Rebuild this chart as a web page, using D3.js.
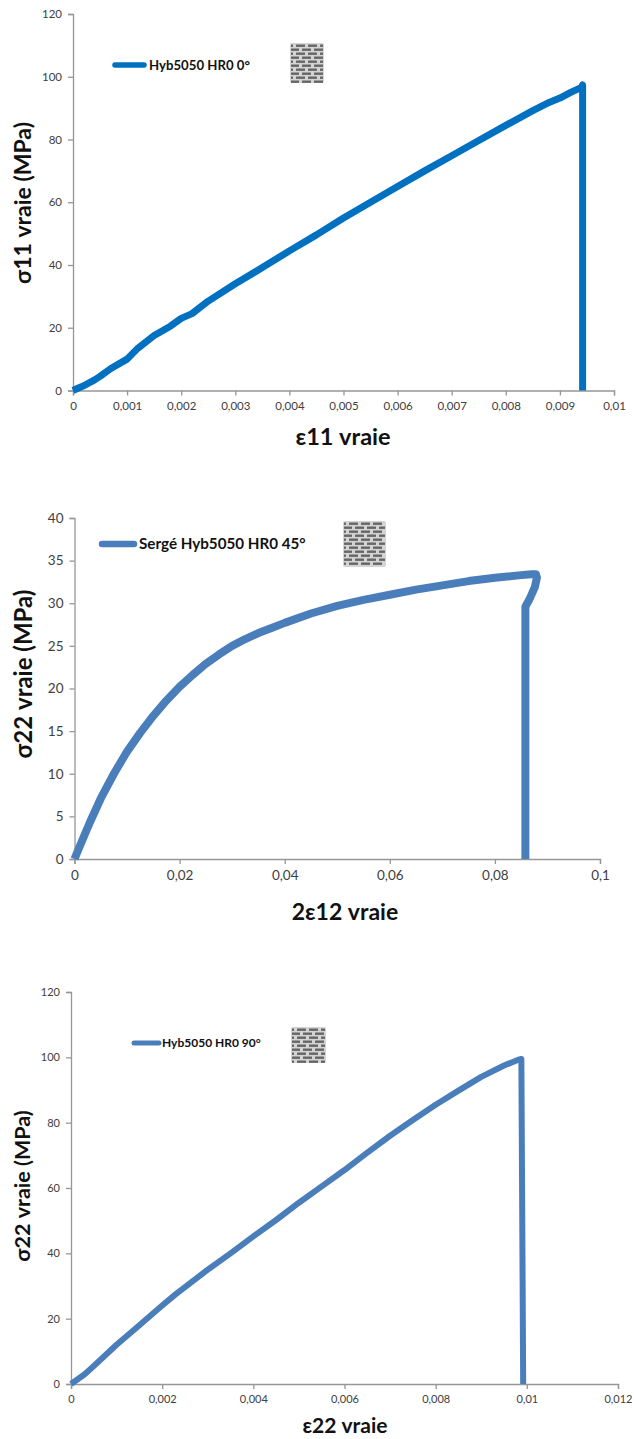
<!DOCTYPE html>
<html><head><meta charset="utf-8">
<script src="https://cdn.jsdelivr.net/npm/d3@7/dist/d3.min.js"></script>
<style>html,body{margin:0;padding:0;background:#fff}svg{display:block}text{font-family:Lato,"Open Sans",sans-serif}</style>
</head><body>
<script>
const strain0 = [0,.0001,.0002,.0004,.0005,.0007,.001,.0012,.0015,.0018,.002,.0022,.0025,.003,.0035,.004,.0045,.005,.0055,.006,.0065,.007,.0075,.008,.0085,.0088,.009,.0092,.0094,.00942,.00942];
const stress0 = [0,.8,1.5,3.4,4.5,7,10,13.5,17.5,20.5,23,24.5,28.5,34,39.2,44.5,49.6,55,60,65,70,74.8,79.7,84.5,89.2,91.8,93.2,95,96.6,97.4,0];
const strain45 = [0,.001,.003,.005,.0075,.01,.0125,.015,.0175,.02,.0225,.025,.0275,.03,.0325,.035,.0375,.04,.045,.05,.055,.06,.065,.07,.075,.08,.085,.087,.0878,.088,.0876,.0866,.0858,.0858];
const stress45 = [0,1.5,4.4,7.1,10,12.6,14.8,16.8,18.6,20.2,21.6,22.9,24,25,25.8,26.5,27.1,27.7,28.8,29.7,30.4,31,31.6,32.1,32.6,33,33.3,33.4,33.4,33,31.9,30.5,29.6,0];
const strain90 = [0,.0002,.0003,.0005,.001,.0015,.002,.0023,.003,.0035,.004,.0045,.005,.0055,.006,.0065,.007,.0075,.008,.0085,.009,.0095,.0098,.00988,.00992];
const stress90 = [0,2,3,5.5,12,18,24,27.5,35,40,45.2,50.2,55.5,60.5,65.5,70.8,76,80.8,85.5,89.8,94,97.5,99.2,99.5,0];
const xTicks0 = [0,.001,.002,.003,.004,.005,.006,.007,.008,.009,.01];
const yTicks0 = [0,20,40,60,80,100,120];
const xTicks45 = [0,.02,.04,.06,.08,.1];
const yTicks45 = [0,5,10,15,20,25,30,35,40];
const xTicks90 = [0,.002,.004,.006,.008,.01,.012];
const yTicks90 = [0,20,40,60,80,100,120];

const charts = [
 {xs:strain0,ys:stress0,xT:xTicks0,yT:yTicks0,xMax:.01,yMax:120,l:73,r:614,t:14,b:390.5,color:"#0070C0",w:7,tick:11.5,
  xLab:"ε11 vraie",xLabX:343,xLabY:445,yLab:"σ11 vraie (MPa)",yLabX:31,yLabY:203,labX:23.5,labY:23,
  name:"Hyb5050 HR0 0°",lx1:115,lx2:144,ly:65,lw:5.5,tx:149,ts:13.2,sw:[290,43,34,40]},
 {xs:strain45,ys:stress45,xT:xTicks45,yT:yTicks45,xMax:.1,yMax:40,l:74.5,r:600,t:518,b:859,color:"#4A7EBB",w:8,tick:13.5,
  xLab:"2ε12 vraie",xLabX:345,xLabY:920,yLab:"σ22 vraie (MPa)",yLabX:32,yLabY:674,labX:23,labY:24,
  name:"Sergé Hyb5050 HR0 45°",lx1:102,lx2:134,ly:544,lw:6.5,tx:139,ts:15.2,sw:[343,521,43,46]},
 {xs:strain90,ys:stress90,xT:xTicks90,yT:yTicks90,xMax:.012,yMax:120,l:71,r:618,t:992,b:1384,color:"#4A7EBB",w:6,tick:11,
  xLab:"ε22 vraie",xLabX:345,xLabY:1433,yLab:"σ22 vraie (MPa)",yLabX:30,yLabY:1186,labX:21,labY:21.5,
  name:"Hyb5050 HR0 90°",lx1:134,lx2:159,ly:1043,lw:5,tx:162,ts:12,sw:[291,1027,35,36]}
];

const svg = d3.select("body").append("svg").attr("width",634).attr("height",1439);
const fmt = v => String(+v.toFixed(4)).replace(".",",");

charts.forEach((c,i)=>{
  const x = d3.scaleLinear([0,c.xMax],[c.l,c.r]);
  const y = d3.scaleLinear([0,c.yMax],[c.b,c.t]);
  const g = svg.append("g");
  const ax = g.append("g").attr("transform",`translate(0,${c.b})`)
    .call(d3.axisBottom(x).tickValues(c.xT).tickFormat(fmt).tickSizeOuter(0).tickSize(5).tickPadding(6));
  const ay = g.append("g").attr("transform",`translate(${c.l},0)`)
    .call(d3.axisLeft(y).tickValues(c.yT).tickFormat(d3.format("d")).tickSizeOuter(0).tickSize(5).tickPadding(6));
  [ax,ay].forEach(a=>{
    a.selectAll("path,line").attr("stroke","#969696").attr("stroke-width",1.3);
    a.selectAll("text").attr("fill","#404040").style("font-size",c.tick+"px").style("font-family","Lato,sans-serif");
  });
  g.append("path").attr("fill","none").attr("stroke",c.color).attr("stroke-width",c.w)
    .attr("stroke-linejoin","round").attr("stroke-linecap","butt")
    .attr("d",d3.line().x((d,k)=>x(c.xs[k])).y((d,k)=>y(c.ys[k]))(c.xs));
  g.append("text").attr("x",c.xLabX).attr("y",c.xLabY).attr("text-anchor","middle")
    .attr("font-weight",700).attr("font-size",c.labX).attr("fill","#111").text(c.xLab);
  g.append("text").attr("transform",`translate(${c.yLabX},${c.yLabY}) rotate(-90)`).attr("text-anchor","middle")
    .attr("font-weight",700).attr("font-size",c.labY).attr("fill","#111").text(c.yLab);
  g.append("line").attr("x1",c.lx1).attr("x2",c.lx2).attr("y1",c.ly).attr("y2",c.ly)
    .attr("stroke",c.color).attr("stroke-width",c.lw).attr("stroke-linecap","round");
  g.append("text").attr("x",c.tx).attr("y",c.ly+c.ts*.36).attr("font-weight",700)
    .attr("font-size",c.ts).attr("fill","#111").text(c.name);
  // woven brick swatch
  const [sx,sy,sw,sh] = c.sw;
  const sg = g.append("g");
  sg.append("rect").attr("x",sx).attr("y",sy).attr("width",sw).attr("height",sh).attr("rx",2).attr("fill","#d4d4d4");
  const rows = d3.range(sy+1.5,sy+sh-2,4);
  rows.forEach((ry,ri)=>{
    const step=12, off = ri%2 ? 0 : -6;
    for(let bx=sx+off; bx<sx+sw; bx+=step){
      const a=Math.max(bx,sx+1), e=Math.min(bx+9,sx+sw-1);
      if(e>a) sg.append("rect").attr("x",a).attr("y",ry).attr("width",e-a).attr("height",2.4).attr("fill","#666");
    }
  });
});
</script>
</body></html>
